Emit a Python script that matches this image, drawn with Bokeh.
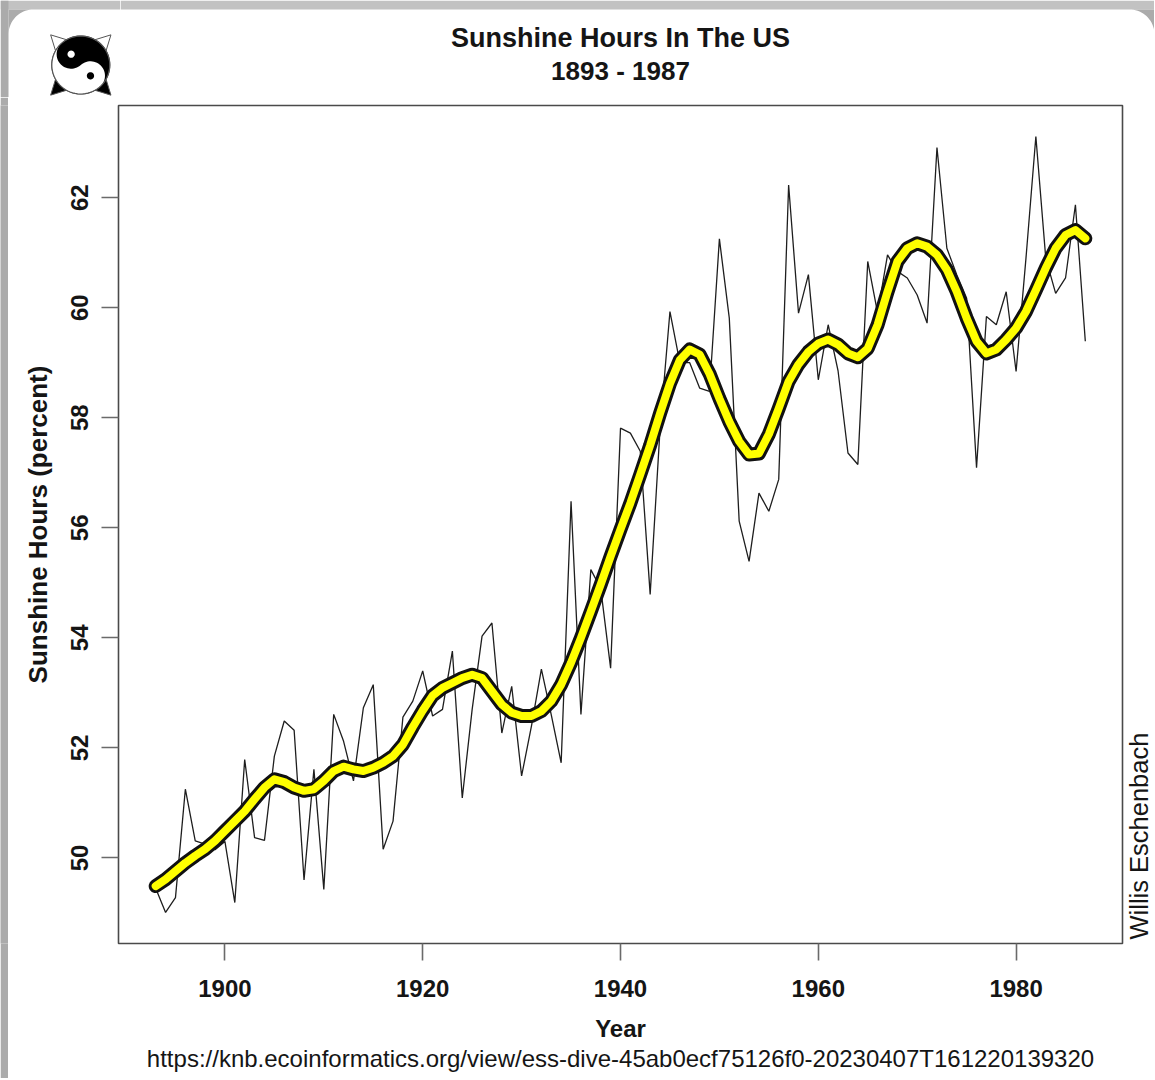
import numpy as np
from bokeh.plotting import figure
from bokeh.layouts import column, row
from bokeh.models import Range1d, FixedTicker, Title
from bokeh.core.properties import value
from bokeh.embed import file_html
from bokeh.resources import INLINE

# ---------------- data ----------------
years = list(range(1893, 1988))
sunshine = [
    49.45, 49.01, 49.28, 51.25, 50.31, 50.25, 50.15,               # 1893-1899
    50.30, 49.19, 51.79, 50.37, 50.32, 51.85, 52.49, 52.32, 49.60, 51.61,  # 1900-1909
    49.43, 52.61, 52.12, 51.40, 52.73, 53.15, 50.16, 50.67, 52.56, 52.85,  # 1910-1919
    53.40, 52.58, 52.70, 53.76, 51.09, 52.70, 54.03, 54.27, 52.27, 53.12,  # 1920-1929
    51.49, 52.40, 53.43, 52.60, 51.73, 56.48, 52.61, 55.24, 54.90, 53.45,  # 1930-1939
    57.81, 57.72, 57.39, 54.79, 57.80, 59.93, 59.00, 59.00, 58.54, 58.48,  # 1940-1949
    61.25, 59.81, 56.12, 55.39, 56.63, 56.30, 56.88, 62.23, 59.90, 60.60,  # 1950-1959
    58.69, 59.69, 58.85, 57.36, 57.15, 60.84, 59.90, 60.96, 60.66, 60.54,  # 1960-1969
    60.23, 59.72, 62.91, 61.08, 60.60, 60.17, 57.09, 59.84, 59.69, 60.29,  # 1970-1979
    58.84, 60.90, 63.11, 60.90, 60.26, 60.54, 61.87, 59.39,                # 1980-1987
]
smooth = [
    49.49, 49.61, 49.76, 49.91, 50.04, 50.16, 50.31,
    50.49, 50.67, 50.85, 51.07, 51.28, 51.43, 51.38, 51.28, 51.22, 51.25,
    51.40, 51.58, 51.66, 51.61, 51.58, 51.64, 51.73, 51.85, 52.06, 52.38,
    52.68, 52.95, 53.09, 53.18, 53.27, 53.33, 53.27, 53.03, 52.79, 52.64,
    52.58, 52.58, 52.67, 52.85, 53.15, 53.55, 54.00, 54.48, 54.97, 55.48,
    55.97, 56.45, 56.97, 57.50, 58.08, 58.62, 59.05, 59.24, 59.15, 58.80,
    58.35, 57.93, 57.57, 57.33, 57.35, 57.70, 58.17, 58.66, 58.97, 59.20,
    59.35, 59.42, 59.33, 59.17, 59.10, 59.26, 59.69, 60.29, 60.84, 61.08,
    61.17, 61.11, 60.96, 60.69, 60.29, 59.81, 59.39, 59.17, 59.24, 59.42,
    59.63, 59.93, 60.32, 60.72, 61.08, 61.32, 61.41, 61.26,
]
x_ticks = [1900, 1920, 1940, 1960, 1980]
y_ticks = [50, 52, 54, 56, 58, 60, 62]

title_text = "Sunshine Hours In The US"
subtitle_text = "1893 - 1987"
x_label = "Year"
y_label = "Sunshine Hours (percent)"
author_text = "Willis Eschenbach"
source_text = "https://knb.ecoinformatics.org/view/ess-dive-45ab0ecf75126f0-20230407T161220139320"

# R-style 4% range extension
xmin, xmax = min(years), max(years)
ymin, ymax = min(sunshine), max(sunshine)
dx = 0.04 * (xmax - xmin)
dy = 0.04 * (ymax - ymin)

FONT = "Liberation Sans"
TXT = "#151515"
EDGE = "#ababab"
TOP_EDGE = "#c2c2c2"
HEAD_H = 97
MAIN_H = 981
STRIP_W = 8
MAIN_W = 1116
SIDE_W = 30
TOTAL_W = STRIP_W + MAIN_W + SIDE_W
LOGO_W = 120
TOP_B, BOT_B = 8, 135
CARD_TOP, CARD_R = 9, 25
SHIFT_EM = 0.36   # empirical offset of the text glyph's alphabetic baseline (in em)


def blank(width, height, xr, yr, top=0, bottom=0, bg="white"):
    f = figure(width=width, height=height, x_range=xr, y_range=yr,
               output_backend="svg", toolbar_location=None,
               x_axis_location=None, y_axis_location=None,
               min_border_left=0, min_border_right=0,
               min_border_top=top, min_border_bottom=bottom)
    f.grid.visible = False
    f.outline_line_color = None
    f.background_fill_color = bg
    f.border_fill_color = bg
    return f

# ---------------- logo strip (decoration, pixel coordinates, y downward) ----------------
logo = blank(LOGO_W, HEAD_H, Range1d(0, LOGO_W), Range1d(HEAD_H, 0))
logo.quad(left=[0], right=[LOGO_W], top=[0], bottom=[CARD_TOP], fill_color=TOP_EDGE, line_color=None)
logo.quad(left=[0], right=[STRIP_W], top=[0], bottom=[HEAD_H], fill_color=EDGE, line_color=None)
ca = np.linspace(np.pi, 1.5 * np.pi, 20)
logo.patch(x=[STRIP_W] + list(STRIP_W + CARD_R + CARD_R * np.cos(ca)) + [STRIP_W],
           y=[CARD_TOP + CARD_R] + list(CARD_TOP + CARD_R + CARD_R * np.sin(ca)) + [CARD_TOP],
           fill_color=EDGE, line_color=None)

cx, cy, R = 80.3, 64.5, 29.0
ev = np.array([-0.667, -0.745]); ev = ev / np.hypot(*ev)
eu = np.array([ev[1], -ev[0]])
def tr(u, v):
    u = np.asarray(u, float); v = np.asarray(v, float)
    return list(cx + u * eu[0] + v * ev[0]), list(cy + u * eu[1] + v * ev[1])

t = np.linspace(0, 2 * np.pi, 72)
xs, ys, fills, lines = [], [], [], []
def add(px, py, f, l):
    xs.append(list(px)); ys.append(list(py)); fills.append(f); lines.append(l)

for sx, sy, col in [(-1, -1, "white"), (1, -1, "white"), (-1, 1, "black"), (1, 1, "black")]:
    a = np.arctan2(sy, sx)
    tip = 1.47 * R
    add([cx + 0.8 * R * np.cos(a + 0.55), cx + tip * np.cos(a), cx + 0.8 * R * np.cos(a - 0.55)],
        [cy + 0.8 * R * np.sin(a + 0.55), cy + tip * np.sin(a), cy + 0.8 * R * np.sin(a - 0.55)],
        col, "#555555")
add(cx + R * np.cos(t), cy + R * np.sin(t), "black", "#444444")
a1 = np.linspace(np.pi / 2, -np.pi / 2, 40)
a2 = np.linspace(-np.pi / 2, -3 * np.pi / 2, 30)
a3 = np.linspace(-np.pi / 2, np.pi / 2, 30)
u = np.concatenate([R * np.cos(a1), (R / 2) * np.cos(a2), (R / 2) * np.cos(a3)])
v = np.concatenate([R * np.sin(a1), -R / 2 + (R / 2) * np.sin(a2), R / 2 + (R / 2) * np.sin(a3)])
px, py = tr(u, v); add(px, py, "white", None)
r = R / 8
px, py = tr(r * np.cos(t), R / 2 + r * np.sin(t)); add(px, py, "white", None)
px, py = tr(r * np.cos(t), -R / 2 + r * np.sin(t)); add(px, py, "black", None)
logo.patches(xs=xs, ys=ys, fill_color=fills, line_color=lines, line_width=1.0)
logo.line(x=list(cx + R * np.cos(t)), y=list(cy + R * np.sin(t)), line_color="#555555", line_width=1.2)

# ---------------- title strip ----------------
ttl = blank(TOTAL_W - LOGO_W, HEAD_H, Range1d(LOGO_W, TOTAL_W), Range1d(HEAD_H, 0))
ttl.quad(left=[LOGO_W], right=[TOTAL_W], top=[0], bottom=[CARD_TOP], fill_color=TOP_EDGE, line_color=None)
cb = np.linspace(1.5 * np.pi, 2 * np.pi, 20)
ttl.patch(x=[TOTAL_W - CARD_R] + list(TOTAL_W - CARD_R + CARD_R * np.cos(cb)) + [TOTAL_W],
          y=[CARD_TOP] + list(CARD_TOP + CARD_R + CARD_R * np.sin(cb)) + [CARD_TOP],
          fill_color=EDGE, line_color=None)
ttl.text(x=[620], y=[46.7 - 9.5], text=[title_text], text_font=value(FONT),
         text_font_size="27px", text_font_style="bold", text_color=TXT,
         text_align="center", text_baseline="alphabetic")
ttl.text(x=[620], y=[80 - 9.5], text=[subtitle_text], text_font=value(FONT),
         text_font_size="26px", text_font_style="bold", text_color=TXT,
         text_align="center", text_baseline="alphabetic")

# ---------------- main plot ----------------
p = figure(
    width=MAIN_W, height=MAIN_H,
    x_range=Range1d(xmin - dx, xmax + dx),
    y_range=Range1d(ymin - dy, ymax + dy),
    output_backend="svg", toolbar_location=None,
    min_border_left=118 - STRIP_W, min_border_right=STRIP_W + MAIN_W - 1122,
    min_border_top=TOP_B, min_border_bottom=BOT_B,
)
p.background_fill_color = "white"
p.border_fill_color = "white"
p.grid.visible = False
p.outline_line_color = "#4a4a4a"
p.outline_line_width = 1.6

for ax in (p.xaxis[0], p.yaxis[0]):
    ax.axis_line_color = None
    ax.major_tick_out = 17
    ax.major_tick_in = 0
    ax.major_tick_line_color = "#6a6a6a"
    ax.major_tick_line_width = 1.6
    ax.minor_tick_line_color = None
    ax.major_label_text_font = FONT
    ax.major_label_text_font_style = "bold"
    ax.major_label_text_font_size = "24px"
    ax.major_label_text_color = TXT
    ax.axis_label_text_font = FONT
    ax.axis_label_text_font_style = "bold"
    ax.axis_label_text_color = TXT

p.xaxis.ticker = FixedTicker(ticks=x_ticks)
p.yaxis.ticker = FixedTicker(ticks=y_ticks)
p.xaxis.major_label_standoff = 19
p.yaxis.major_label_standoff = 13
p.yaxis.major_label_orientation = "vertical"
p.xaxis.axis_label = x_label
p.xaxis.axis_label_text_font_size = "24px"
p.xaxis.axis_label_standoff = 15
p.yaxis.axis_label = y_label
p.yaxis.axis_label_text_font_size = "26px"
p.yaxis.axis_label_standoff = 16

# source line below the x axis
p.add_layout(Title(text=source_text, align="center", text_font=FONT,
                   text_font_size="24px", text_font_style="normal",
                   text_color=TXT, standoff=-3), "below")

# data lines
p.line(years, sunshine, line_color="#1e1e1e", line_width=1.3)
p.line(years, smooth, line_color="#111111", line_width=14,
       line_cap="round", line_join="round")
p.line(years, smooth, line_color="#ffff00", line_width=8,
       line_cap="round", line_join="round")

# ---------------- left edge strip and author strip on the right ----------------
edge = blank(STRIP_W, MAIN_H, Range1d(0, 1), Range1d(0, 1), top=TOP_B, bottom=BOT_B, bg=EDGE)

side = blank(SIDE_W, MAIN_H, Range1d(0, SIDE_W), p.y_range, top=TOP_B, bottom=BOT_B)
AUTH_SIZE = 25.5
px_per_unit = 838.0 / ((ymax + dy) - (ymin - dy))
side.text(x=[1148 - STRIP_W - MAIN_W - SHIFT_EM * AUTH_SIZE], y=[ymin - dy + 4.0 / px_per_unit],
          text=[author_text], text_font=value(FONT), text_font_size=f"{AUTH_SIZE}px",
          text_color=TXT, text_align="left", text_baseline="alphabetic", angle=np.pi / 2)

layout = column(row(logo, ttl), row(edge, p, side))
open("out.html", "w").write(file_html(layout, INLINE))
